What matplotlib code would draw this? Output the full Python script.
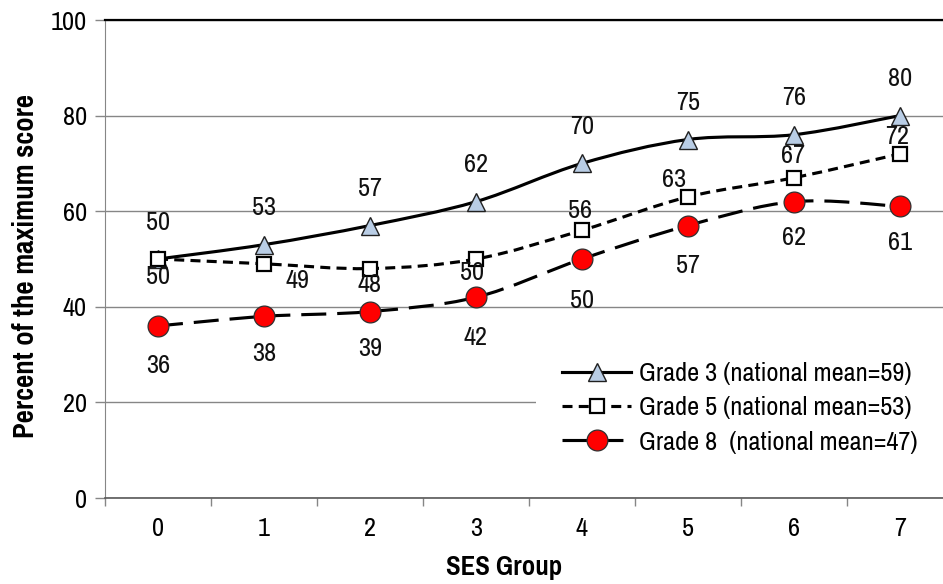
import numpy as np
import matplotlib
matplotlib.use("Agg")
import matplotlib.pyplot as plt
from matplotlib.path import Path
from matplotlib.patches import PathPatch
from matplotlib.lines import Line2D

################################################################
# data
ses_groups = [0, 1, 2, 3, 4, 5, 6, 7]
grade3 = [50, 53, 57, 62, 70, 75, 76, 80]
grade5 = [50, 49, 48, 50, 56, 63, 67, 72]
grade8 = [36, 38, 39, 42, 50, 57, 62, 61]
legend_labels = [
    "Grade 3 (national mean=59)",
    "Grade 5 (national mean=53)",
    "Grade 8  (national mean=47)",
]
y_ticks = [0, 20, 40, 60, 80, 100]
################################################################

plt.rcParams['font.family'] = ['Archivo Narrow', 'DejaVu Sans']
TITLE_FONT = ['Pragati Narrow', 'Archivo Narrow', 'DejaVu Sans']
FS = 19

W, H = 943, 584
fig = plt.figure(figsize=(W / 100, H / 100), dpi=100)
# plot area runs past the right edge of the picture, as in the reference
ax = fig.add_axes([105 / W, (H - 498) / H, 848 / W, 478 / H])

GRID = '#868686'


def smooth_path(xs, ys):
    # Excel-style smoothed line: cubic bezier through every point
    pts = np.column_stack([xs, ys]).astype(float)
    n = len(pts)
    verts = [pts[0]]
    codes = [Path.MOVETO]
    for i in range(n - 1):
        p0 = pts[max(i - 1, 0)]
        p1 = pts[i]
        p2 = pts[i + 1]
        p3 = pts[min(i + 2, n - 1)]
        c1 = p1 + (p2 - p0) / 6
        c2 = p2 - (p3 - p1) / 6
        verts += [c1, c2, p2]
        codes += [Path.CURVE4] * 3
    return Path(verts, codes)


series = [
    dict(y=grade3, ls='-', marker='^', ms=13.5, mfc='#B9CDE5', mew=1.0, mec='#202020'),
    dict(y=grade5, ls=(0, (3.2, 2.0)), marker='s', ms=10, mfc='white', mew=1.6, mec='black'),
    dict(y=grade8, ls=(0, (8.0, 3.5)), marker='o', ms=15, mfc='#FF0000', mew=0.9, mec='#303030'),
]
LW = 2.25

handles = []
for s in series:
    ax.add_patch(PathPatch(smooth_path(ses_groups, s['y']), fill=False,
                           edgecolor='black', lw=LW, linestyle=s['ls'],
                           capstyle='butt', zorder=3))
    ax.plot(ses_groups, s['y'], linestyle='none', marker=s['marker'], ms=s['ms'],
            mfc=s['mfc'], mec=s['mec'], mew=s['mew'], zorder=4)
    handles.append(Line2D([], [], color='black', lw=LW, linestyle=s['ls'],
                          marker=s['marker'], ms=s['ms'], mfc=s['mfc'],
                          mec=s['mec'], mew=s['mew']))

# data labels, offsets in pixels (x right, y down)
px = 0.72
off3 = [(0, -37)] * 8
off5 = [(0, 18), (33, 17), (0, 16), (-4, 13), (-2, -20), (-14, -17), (-1, -22), (-3, -17)]
off8 = [(0, 40), (0, 37), (0, 37), (0, 40), (0, 41), (0, 40), (0, 36), (0, 36)]
for vals, offs in [(grade3, off3), (grade5, off5), (grade8, off8)]:
    for x, v, (dx, dy) in zip(ses_groups, vals, offs):
        ax.annotate(str(v), (x, v), xytext=(dx * px, -dy * px), textcoords='offset points',
                    ha='center', va='center', fontsize=FS, color='#111111', zorder=5)

ax.set_xlim(-0.5, 7.5)
ax.set_ylim(0, 100)
ax.set_yticks(y_ticks)
ax.set_xticks(ses_groups)
ax.set_xticks(np.arange(-0.5, 8.0, 1.0), minor=True)
ax.tick_params(axis='x', which='major', length=0, pad=14, labelsize=FS)
ax.tick_params(axis='x', which='minor', length=6, color=GRID, width=1, direction='out')
ax.tick_params(axis='y', length=7, color=GRID, width=1, direction='out', pad=6, labelsize=FS)

ax.grid(axis='y', color=GRID, lw=1)
ax.set_axisbelow(True)
ax.spines['right'].set_visible(False)
ax.spines['left'].set_color(GRID)
ax.spines['bottom'].set_color('#595959')
ax.spines['bottom'].set_linewidth(1.2)
ax.spines['top'].set_color('black')
ax.spines['top'].set_linewidth(1.6)

ax.set_xlabel("SES Group", fontsize=21, fontweight='bold', family=TITLE_FONT, va='center')
ax.xaxis.set_label_coords((504 - 105) / 848, (498 - 568) / 478)
ax.set_ylabel("Percent of the maximum score", fontsize=22.5, fontweight='bold',
              family=TITLE_FONT, va='center')
ax.yaxis.set_label_coords((26 - 105) / 848, (498 - 266) / 478)

leg = ax.legend(handles, legend_labels, loc='upper left',
                bbox_to_anchor=(536 / W, 1 - 336 / H), bbox_transform=fig.transFigure,
                fontsize=FS, frameon=True, facecolor='white', edgecolor='none',
                framealpha=1, fancybox=False, handlelength=2.6, handletextpad=0.3,
                labelspacing=0.42, borderpad=1.0, borderaxespad=0)
leg.set_zorder(6)

fig.savefig("out.png", dpi=100)
